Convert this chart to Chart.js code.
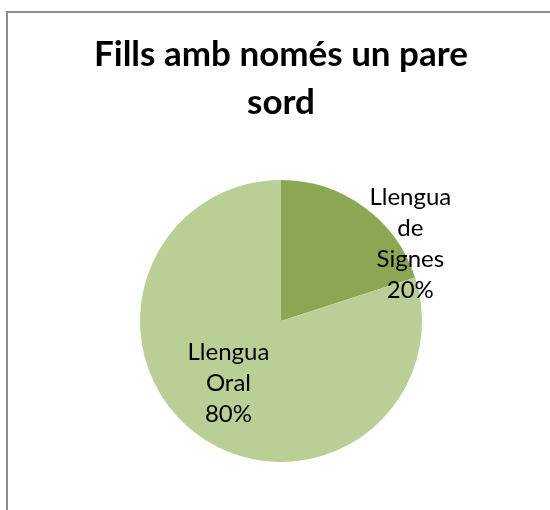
<!DOCTYPE html>
<html>
<head>
<meta charset="utf-8">
<script src="https://cdn.jsdelivr.net/npm/chart.js@4/dist/chart.umd.min.js"></script>
<style>
  body { margin: 0; background: #fff; }
  #frame { position: absolute; left: 6px; top: 11px; width: 560px; height: 520px;
           border-left: 2px solid #8e8e8e; border-top: 2px solid #8e8e8e; }
  #pie { position: absolute; left: 0; top: 0; }
</style>
</head>
<body>
<div id="frame"></div>
<canvas id="pie" width="550" height="510"></canvas>
<script>
// values
const categories = ['Llengua de Signes', 'Llengua Oral'];
const labelLines = [['Llengua', 'de', 'Signes'], ['Llengua', 'Oral']];
const percents = [20, 80];
const sliceColors = ['#8ba753', '#bacf96'];

// where each label sits: fraction of radius + angle shift (deg)
const labelPlace = [{ r: 1.07, shift: 23 }, { r: 0.58, shift: 4 }];

const pieLabels = {
  id: 'pieLabels',
  afterDatasetsDraw(chart) {
    const ctx = chart.ctx;
    const meta = chart.getDatasetMeta(0);
    ctx.save();
    ctx.fillStyle = '#000';
    ctx.font = '24px Lato';
    ctx.textAlign = 'center';
    ctx.textBaseline = 'middle';
    meta.data.forEach((arc, i) => {
      const p = arc.getProps(['x', 'y', 'startAngle', 'endAngle', 'outerRadius'], true);
      const a = (p.startAngle + p.endAngle) / 2 + labelPlace[i].shift * Math.PI / 180;
      const cx = p.x + Math.cos(a) * p.outerRadius * labelPlace[i].r;
      const cy = p.y + Math.sin(a) * p.outerRadius * labelPlace[i].r;
      const lines = labelLines[i].concat([percents[i] + '%']);
      const lh = 31;
      lines.forEach((t, k) => {
        ctx.fillText(t, cx, cy + (k - (lines.length - 1) / 2) * lh);
      });
    });
    ctx.restore();
  }
};

new Chart(document.getElementById('pie'), {
  type: 'pie',
  data: {
    labels: categories,
    datasets: [{
      data: percents,
      backgroundColor: sliceColors,
      borderWidth: 0,
      radius: 141
    }]
  },
  options: {
    responsive: false,
    devicePixelRatio: 1,
    animation: false,
    layout: { padding: { left: 12, right: 0, top: 0, bottom: 48 } },
    plugins: {
      legend: { display: false },
      tooltip: { enabled: false },
      title: {
        display: true,
        text: ['Fills amb només un pare', 'sord'],
        color: '#000',
        font: { family: 'Lato', size: 35, weight: 'bold', lineHeight: 48 / 35 },
        padding: { top: 31, bottom: 53 }
      }
    }
  },
  plugins: [pieLabels]
});
</script>
</body>
</html>
